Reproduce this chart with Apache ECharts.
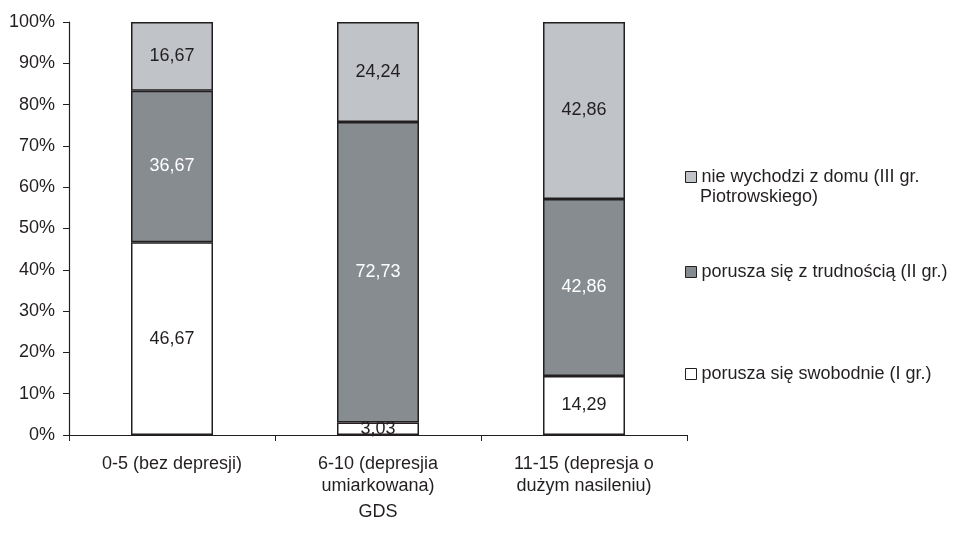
<!DOCTYPE html>
<html>
<head>
<meta charset="utf-8">
<script src="https://cdn.jsdelivr.net/npm/echarts@6/dist/echarts.min.js"></script>
<style>html,body{margin:0;padding:0;background:#fff}#c{width:957px;height:540px}</style>
</head>
<body>
<div id="c"></div>
<script>
const categories = ['0-5 (bez depresji)', '6-10 (depresjia\numiarkowana)', '11-15 (depresja o\ndużym nasileniu)'];
const seriesNames = ['porusza się swobodnie (I gr.)', 'porusza się z trudnością (II gr.)', 'nie wychodzi z domu (III gr. Piotrowskiego)'];
const groupI = [46.67, 3.03, 14.29];
const groupII = [36.67, 72.73, 42.86];
const groupIII = [16.67, 24.24, 42.86];
const yTicks = [0, 10, 20, 30, 40, 50, 60, 70, 80, 90, 100];
const xAxisTitle = 'GDS';

const FONT = 'Liberation Sans, Arial, sans-serif';
const FS = 18;
const INK = '#231f20';
const colors = ['#ffffff', '#878c91', '#c0c3c8'];
const labelColors = [INK, '#ffffff', INK];
const dataSets = [groupI, groupII, groupIII];

const chart = echarts.init(document.getElementById('c'));
const fmt = p => p.value.toFixed(2).replace('.', ',');

const series = dataSets.map((d, i) => ({
  name: seriesNames[i],
  type: 'bar',
  stack: 'total',
  barWidth: 82,
  data: d,
  itemStyle: { color: colors[i], borderColor: INK, borderWidth: 1.5 },
  label: { show: true, position: 'inside', formatter: fmt, color: labelColors[i], fontFamily: FONT, fontSize: FS },
  emphasis: { disabled: true }
}));

const legendBase = {
  orient: 'vertical', left: 685, padding: 0, itemWidth: 11, itemHeight: 11, icon: 'rect',
  itemStyle: { borderColor: INK, borderWidth: 1 },
  textStyle: { fontFamily: FONT, fontSize: FS, color: INK },
  selectedMode: false
};

chart.setOption({
  animation: false,
  backgroundColor: '#ffffff',
  grid: { left: 69, right: 270, top: 22, bottom: 105 },
  legend: [
    Object.assign({}, legendBase, { top: 168, data: [seriesNames[2]], formatter: () => 'nie wychodzi z domu (III gr.' }),
    Object.assign({}, legendBase, { top: 263, data: [seriesNames[1]] }),
    Object.assign({}, legendBase, { top: 365, data: [seriesNames[0]] })
  ],
  graphic: [
    { type: 'text', left: 700, top: 188, style: { text: 'Piotrowskiego)', font: FS + 'px ' + FONT, fill: INK } }
  ],
  xAxis: {
    type: 'category', data: categories,
    name: xAxisTitle, nameLocation: 'middle', nameGap: 68, nameMoveOverlap: false,
    nameTextStyle: { fontFamily: FONT, fontSize: FS, color: INK },
    axisLine: { lineStyle: { color: INK, width: 1.2 } },
    axisTick: { show: true, length: 6, lineStyle: { color: INK } },
    axisLabel: { fontFamily: FONT, fontSize: FS, color: INK, margin: 18, lineHeight: 22 }
  },
  yAxis: {
    type: 'value', min: 0, max: 100, interval: 10,
    axisLine: { show: true, lineStyle: { color: INK, width: 1.2 } },
    axisTick: { show: true, length: 6, lineStyle: { color: INK } },
    splitLine: { show: false },
    axisLabel: { fontFamily: FONT, fontSize: FS, color: INK, margin: 14,
      formatter: v => yTicks.includes(v) ? v + '%' : '' }
  },
  series: series
});
</script>
</body>
</html>
